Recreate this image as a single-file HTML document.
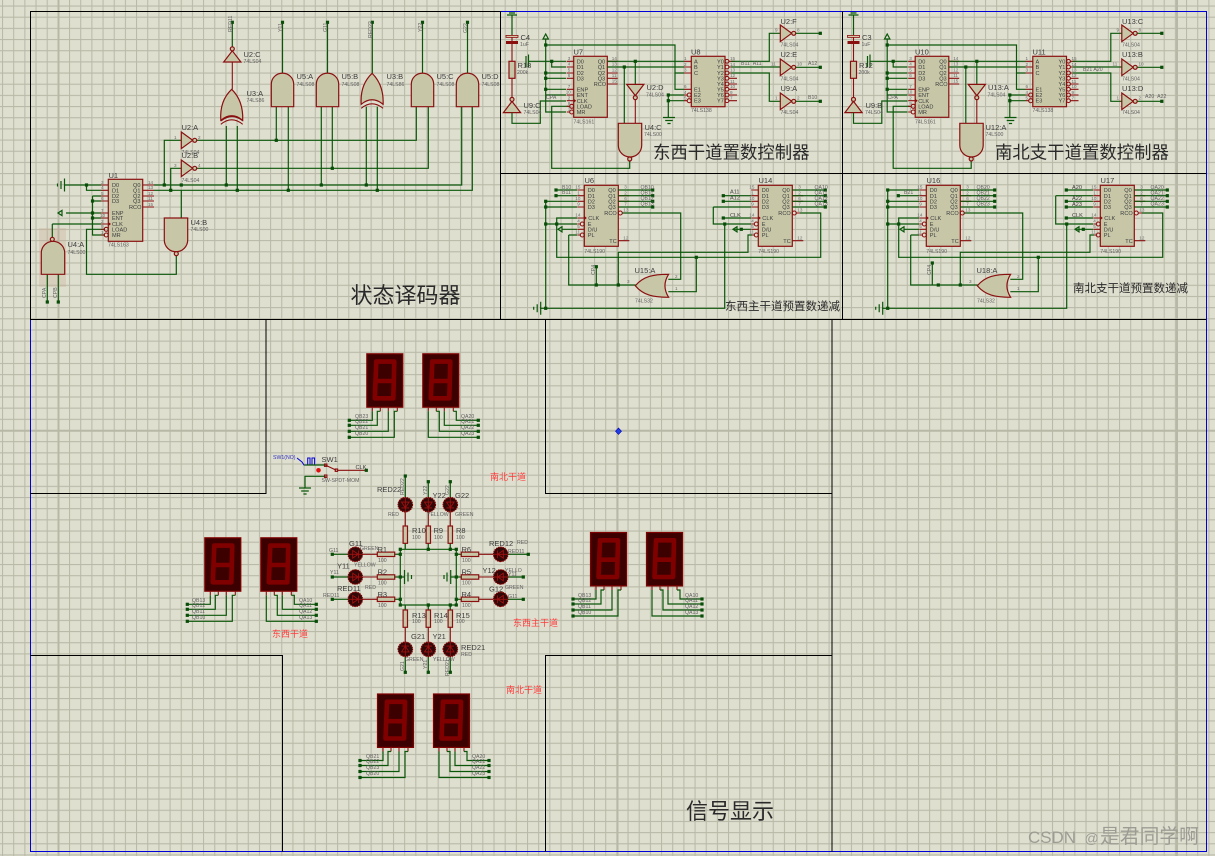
<!DOCTYPE html>
<html><head><meta charset="utf-8"><style>
html,body{margin:0;padding:0;background:#dfdfd0;width:1215px;height:856px;overflow:hidden}
svg{display:block;font-family:"Liberation Sans","Noto Sans CJK SC",sans-serif}
.w{stroke:#0a570a;fill:none;stroke-width:1.2}
.m{stroke:#8a1010;fill:none;stroke-width:1.1}
.b{stroke:#8a1010;fill:#c7c7a8;stroke-width:1.2}
.k{stroke:#000;fill:none;stroke-width:1}
.bl{stroke:#0000d8;fill:none;stroke-width:1}
.t{font-size:7.5px;fill:#3c3c3c}
.s{font-size:5.2px;fill:#606060}
.p{font-size:5.6px;fill:#3c3c3c}
.n{font-size:4.6px;fill:#6a6a6a}
.z{font-size:22px;fill:#2a2a2a}
.y{font-size:17.4px;fill:#2a2a2a}
.x{font-size:11.5px;fill:#2a2a2a}
.r{font-size:9px;fill:#ff3c3c}
</style></head><body>
<svg width="1215" height="856" viewBox="0 0 1215 856" xmlns="http://www.w3.org/2000/svg">
<defs>
<pattern id="gr" x="2" y="5.5" width="11.17" height="11.17" patternUnits="userSpaceOnUse"><path d="M.5,0V11.17M0,.5H11.17" stroke="#b9b9a8" stroke-width="1.1" fill="none"/></pattern>
<rect id="j" x="-1.6" y="-1.6" width="3.2" height="3.2" fill="#084d08"/>
<path id="and" class="b" d="M0,33.4V11A11.2,11.2 0 0 1 22.4,11V33.4Z"/>
<g id="xor"><path class="b" d="M.5,31C-.5,16 5,6 11.4,0C17.5,6 23,16 22.4,31Q11.4,22 .5,31Z"/><path class="m" d="M.5,35Q11.4,26 22.4,35"/></g>
<path id="nand" class="b" d="M0,0H23.4V22A11.7,11.7 0 0 1 0,22Z"/>
<g id="inv"><path class="b" d="M0,-8.3L11.4,0L0,8.3Z"/><circle class="b" cx="13.4" cy="0" r="2"/></g>
<g id="invU"><path class="b" d="M-8.6,5.6L0,-5.6L8.6,5.6Z"/><circle class="b" cx="0" cy="-7.6" r="2"/></g>
<g id="invD"><path class="b" d="M-8.6,-5.6L0,5.6L8.6,-5.6Z"/><circle class="b" cx="0" cy="7.6" r="2"/></g>
<path id="orL" class="b" d="M0,11.5C8,2 18,0 33.3,0Q26,11.5 33.3,23C18,23 8,21 0,11.5Z"/>
<path id="termL" class="w" d="M0,0L4,-2.6V2.6ZM4,-3V3"/>
<g id="gndR"><path class="w" d="M0,-6.5V6.5M-3.5,-4V4M-7,-1.5V1.5"/></g>
<g id="gndD"><path class="w" d="M-6,0H6M-3.8,3H3.8M-1.6,6H1.6"/></g>

<g id="c190">
<rect class="b" x="0" y="0" width="34" height="61"/>
<path class="m" d="M-7,4.7H0M-7,10.4H0M-7,16H0M-7,21.7H0M-7,32.7H0M-7,38.7H-4M-7,44H0M-7,49.7H-4M34,4.7H45M34,10.4H45M34,16H45M34,21.7H45M38,27.7H45M34,55.4H45"/>
<circle class="m" cx="-2" cy="38.7" r="2"/><circle class="m" cx="-2" cy="49.7" r="2"/><circle class="m" cx="36" cy="27.7" r="2"/>
<path d="M0,30.7L2.5,32.7L0,34.7Z" fill="#8a1010"/>
<text class="p" x="3.5" y="6.8">D0</text><text class="p" x="3.5" y="12.5">D1</text><text class="p" x="3.5" y="18.1">D2</text><text class="p" x="3.5" y="23.8">D3</text><text class="p" x="4" y="34.8">CLK</text><text class="p" x="3.5" y="40.8">E</text><text class="p" x="3.5" y="46.1">D/U</text><text class="p" x="3.5" y="51.8">PL</text>
<text class="p" x="24" y="6.8">Q0</text><text class="p" x="24" y="12.5">Q1</text><text class="p" x="24" y="18.1">Q2</text><text class="p" x="24" y="23.8">Q3</text><text class="p" x="20" y="29.8">RCO</text><text class="p" x="25" y="57.5">TC</text>
<text class="n" x="-9" y="3.4">15</text><text class="n" x="-7" y="9">1</text><text class="n" x="-9" y="14.8">10</text><text class="n" x="-7" y="20.4">9</text><text class="n" x="-9" y="31.4">14</text><text class="n" x="-7" y="37.4">4</text><text class="n" x="-7" y="42.8">5</text><text class="n" x="-9" y="48.4">11</text>
<text class="n" x="40" y="3.4">3</text><text class="n" x="40" y="9">2</text><text class="n" x="40" y="14.8">6</text><text class="n" x="40" y="20.4">7</text><text class="n" x="39" y="26.4">13</text><text class="n" x="39" y="54">12</text>
<text class="s" x="0" y="67.5">74LS190</text>
</g>

<g id="c161">
<rect class="b" x="0" y="0" width="33.6" height="61"/>
<path class="m" d="M-7,5H0M-7,10.7H0M-7,16.7H0M-7,22H0M-7,33H0M-7,38.7H0M-7,44.4H0M-7,50H-4M-7,55.7H-4M33.6,5H44M33.6,10.7H44M33.6,16.7H44M33.6,22H44M33.6,27.7H44"/>
<circle class="m" cx="-2" cy="50" r="2"/><circle class="m" cx="-2" cy="55.7" r="2"/>
<path d="M0,42.4L2.5,44.4L0,46.4Z" fill="#8a1010"/>
<text class="p" x="3" y="7">D0</text><text class="p" x="3" y="12.8">D1</text><text class="p" x="3" y="18.8">D2</text><text class="p" x="3" y="24">D3</text><text class="p" x="3" y="35">ENP</text><text class="p" x="3" y="40.8">ENT</text><text class="p" x="3" y="46.5">CLK</text><text class="p" x="3" y="52">LOAD</text><text class="p" x="3" y="57.8">MR</text>
<text class="p" x="24" y="7">Q0</text><text class="p" x="24" y="12.8">Q1</text><text class="p" x="24" y="18.8">Q2</text><text class="p" x="24" y="24">Q3</text><text class="p" x="20" y="29.8">RCO</text>
<text class="n" x="-6" y="3.7">3</text><text class="n" x="-6" y="9.4">4</text><text class="n" x="-6" y="15.4">5</text><text class="n" x="-6" y="20.7">6</text><text class="n" x="-6" y="31.7">7</text><text class="n" x="-8" y="37.4">10</text><text class="n" x="-6" y="43">2</text><text class="n" x="-6" y="48.7">9</text><text class="n" x="-6" y="54.4">1</text>
<text class="n" x="38" y="3.7">14</text><text class="n" x="38" y="9.4">13</text><text class="n" x="38" y="15.4">12</text><text class="n" x="38" y="20.7">11</text><text class="n" x="38" y="26.4">15</text>
</g>

<g id="disp">
<rect x=".5" y=".5" width="36" height="53.4" fill="#3c0000" stroke="#800000" stroke-width="1.2"/>
<path d="M10,8.3H28L27,45H8.5ZM9.2,27.7H27.5" fill="none" stroke="#800000" stroke-width="4.6" stroke-linejoin="round"/>
<path class="m" d="M6,53.7V58M14,53.7V58M22,53.7V58M31,53.7V58" stroke-width="1.2"/>
</g>
<g id="pair">
<use href="#disp"/><use href="#disp" x="56"/>
<path class="w" d="M-17,67H6V58M-17,72H11V58H14M-17,78H22V58M-17,84H28V58H31"/>
<path class="w" d="M62,58V84H112M70,58H73V78H112M78,58V72H112M87,58H90V67H112"/>
<use href="#j" x="-17" y="67"/><use href="#j" x="-17" y="72"/><use href="#j" x="-17" y="78"/><use href="#j" x="-17" y="84"/>
<use href="#j" x="112" y="67"/><use href="#j" x="112" y="72"/><use href="#j" x="112" y="78"/><use href="#j" x="112" y="84"/>
</g>

<g id="led"><circle cx="0" cy="0" r="7.2" fill="#300808" stroke="#800000" stroke-width="1.2" stroke-dasharray="1.5 .7"/><path d="M-3.8,-2.6H3.8L0,3ZM-3.8,3.2H3.8M0,-7V7" stroke="#a01010" stroke-width=".9" fill="none"/></g>
<rect id="rv" class="b" x="-2.2" y="0" width="4.4" height="17.3"/>
<rect id="rh" class="b" x="0" y="-2.2" width="17.4" height="4.4"/>

<g id="s2">
<path class="w" d="M507,15H517M509,13H515M512,15V35"/>
<path class="m" d="M512,37V41M512,44V61.3M512,78.3V97"/>
<rect x="506" y="35.4" width="12" height="2" fill="#d8c8a8" stroke="#8a1010" stroke-width=".8"/><rect x="506" y="41" width="12" height="3" fill="#8a1010"/>
<rect class="b" x="509" y="61.3" width="6" height="17"/>
<use href="#invU" x="512" y="107"/>
<path class="w" d="M512,112.7V123.3H540.3V101H566"/>
<path class="w" d="M543,39L545.7,34L548.4,39ZM545.7,39V112H566M545.7,45H675V89.3H684M675,73H684M545.7,73H566M545.7,78.3H566M545.7,89.3H566M545.7,95H566"/>
<path class="w" d="M526,56V67M528.5,54.5V67M528.5,61.3H566M551.7,61.3V67H566M569,106.3H551.7V168.3H629.7V161"/>
<use href="#j" x="551.7" y="61.3"/><use href="#j" x="545.7" y="45"/><use href="#j" x="545.7" y="73"/><use href="#j" x="545.7" y="78.3"/><use href="#j" x="545.7" y="89.3"/>
<use href="#c161" x="573.7" y="56.3"/>
<path class="w" d="M607.3,61.3H684M607.3,67H684M624.3,67V123M635.3,61.3V84"/>
<use href="#j" x="624.3" y="67"/><use href="#j" x="635.3" y="61.3"/>
<use href="#invD" x="635.3" y="90"/>
<path class="m" d="M635.3,100V123.3"/>
<use href="#nand" x="618.3" y="123.3"/><circle class="b" cx="629.7" cy="159" r="2"/>
<rect class="b" x="691.3" y="56.3" width="33.7" height="50.4"/>
<path class="m" d="M684,61.3H691.3M684,67H691.3M684,73H691.3M684,89.3H691.3M684,95H687M684,100.7H687"/>
<circle class="m" cx="689.2" cy="95" r="2"/><circle class="m" cx="689.2" cy="100.7" r="2"/>
<path class="m" d="M729,61.3H735M729,67H735M729,73H735M729,78.3H737M729,84H737M729,89.3H737M729,95H737M729,100.7H737"/>
<circle class="m" cx="727" cy="61.3" r="1.9"/><circle class="m" cx="727" cy="67" r="1.9"/><circle class="m" cx="727" cy="73" r="1.9"/><circle class="m" cx="727" cy="78.3" r="1.9"/><circle class="m" cx="727" cy="84" r="1.9"/><circle class="m" cx="727" cy="89.3" r="1.9"/><circle class="m" cx="727" cy="95" r="1.9"/><circle class="m" cx="727" cy="100.7" r="1.9"/>
<text class="p" x="694" y="63.3">A</text><text class="p" x="694" y="69">B</text><text class="p" x="694" y="75">C</text><text class="p" x="694" y="91.3">E1</text><text class="p" x="694" y="97">E2</text><text class="p" x="694" y="102.7">E3</text>
<text class="p" x="717" y="63.3">Y0</text><text class="p" x="717" y="69">Y1</text><text class="p" x="717" y="75">Y2</text><text class="p" x="717" y="80.3">Y3</text><text class="p" x="717" y="86">Y4</text><text class="p" x="717" y="91.3">Y5</text><text class="p" x="717" y="97">Y6</text><text class="p" x="717" y="102.7">Y7</text>
<text class="n" x="684" y="60">1</text><text class="n" x="684" y="65.8">2</text><text class="n" x="684" y="71.6">3</text><text class="n" x="684" y="88">6</text><text class="n" x="684" y="93.8">4</text><text class="n" x="684" y="99.5">5</text>
<text class="n" x="730" y="60">15</text><text class="n" x="730" y="65.8">14</text><text class="n" x="730" y="71.6">13</text><text class="n" x="730" y="77">12</text><text class="n" x="730" y="82.8">11</text><text class="n" x="730" y="88">10</text><text class="n" x="730" y="93.8">9</text><text class="n" x="730" y="99.5">7</text>
<path class="w" d="M668.3,95H684M668.3,100.7H684M668.3,95V117.3"/>
<use href="#j" x="668.3" y="95"/><use href="#j" x="668.3" y="100.7"/><use href="#gndD" x="669" y="117.5"/>
<path class="w" d="M731,61.3H769.3V33.3H780M731,67H780M731,73H769.3V101.3H780"/>
<use href="#inv" x="780.3" y="33.3"/><use href="#inv" x="780.3" y="67.3"/><use href="#inv" x="780.3" y="101.3"/>
<path class="w" d="M796,33.3H820.3M796,67.3H820.3M796,101.3H820.3"/>
<use href="#j" x="820.3" y="33.3"/><use href="#j" x="820.3" y="67.3"/><use href="#j" x="820.3" y="101.3"/>
<text class="n" x="775" y="31.5">9</text><text class="n" x="797" y="31.5">8</text><text class="n" x="771" y="65.5">11</text><text class="n" x="797" y="65.5">10</text><text class="n" x="775" y="99.5">1</text><text class="n" x="797" y="99.5">2</text>
<text class="s" x="780.5" y="46.5">74LS04</text><text class="s" x="780.5" y="80.5">74LS04</text><text class="s" x="780.5" y="114">74LS04</text>
<text class="s" x="520" y="46">1uF</text><text class="s" x="517" y="74">200k</text><text class="s" x="523.5" y="114">74LS04</text><text class="s" x="573.5" y="123.3">74LS161</text><text class="s" x="691" y="112">74LS138</text><text class="s" x="646" y="96.5">74LS04</text><text class="s" x="644" y="136">74LS00</text>
<text class="s" x="546" y="99">CPA</text>
</g>

<g id="s2b">
<use href="#c190" x="584.3" y="185.3"/><use href="#c190" x="758.3" y="185.3"/>
<path class="w" d="M545.7,201.3V308.3H724.7V224M545.7,201.3H577M545.7,207H577M545.7,224H577M540,308.3H546"/>
<use href="#gndR" x="540.7" y="308.3"/>
<use href="#j" x="545.7" y="201.3"/><use href="#j" x="545.7" y="207"/><use href="#j" x="545.7" y="224"/><use href="#j" x="545.7" y="308.3"/>
<path class="w" d="M724.7,224H751M733,229.3H751"/>
<use href="#j" x="724.7" y="224"/><use href="#j" x="741.3" y="229.3"/>
<use href="#termL" x="733" y="229.3"/>
<use href="#termL" x="558" y="229.3"/>
<path class="w" d="M562,229.3H577M577,218H556.7V257.3H820.7V213H800"/>
<use href="#j" x="556.7" y="224"/>
<use href="#j" x="696.3" y="257.3"/>
<path class="w" d="M696.3,257.3V291.7H668.3M668.3,279.3H680.7V213H622.7M568.7,235H577M568.7,235V285H635.7M618.3,285V252.3H748V235H752"/>
<use href="#j" x="596.3" y="285"/><use href="#j" x="618.3" y="285"/>
<use href="#orL" x="635.3" y="274.3"/>
<path class="w" d="M618.3,190H653M618.3,195.7H653M618.3,201.3H653M618.3,207H653M792.3,190H825.3M792.3,195.7H825.3M792.3,201.3H825.3M792.3,207H825.3"/>
<use href="#j" x="652.7" y="190"/><use href="#j" x="652.7" y="195.7"/><use href="#j" x="652.7" y="201.3"/><use href="#j" x="652.7" y="207"/>
<use href="#j" x="825.3" y="190"/><use href="#j" x="825.3" y="195.7"/><use href="#j" x="825.3" y="201.3"/><use href="#j" x="825.3" y="207"/>
<text class="n" x="627" y="283">3</text><text class="n" x="675" y="278">2</text><text class="n" x="675" y="290">1</text>
<text class="s" x="635" y="302.3">74LS32</text>
</g>
</defs>

<rect width="1215" height="856" fill="#dfdfd0"/>
<rect width="1215" height="856" fill="url(#gr)"/>
<path d="M58.5,0V856M617.5,0V856M1177,0V856M0,430.7H1215" stroke="#b8b8a6" stroke-width="2" fill="none"/>

<!-- frames -->
<path class="bl" d="M30.5,320V851.5H1206.5V11.5H500"/>
<path class="k" d="M500,11.5H30.5V319.5H1206M500.5,11V319M842.5,11V319M500,173.5H1206"/>
<path class="k" d="M266,320V493.5H30.5M545.5,320V493.5H832M832,320V852M30.5,655.5H282.5V852M545.5,852V655.5H832"/>
<path d="M618.5,428L621.5,431.2L618.5,434.4L615.5,431.2Z" fill="#2040e0" stroke="#0000c0" stroke-width=".6"/>

<!-- state decoder -->
<rect x="39" y="228" width="27" height="59" fill="#c8a890" opacity=".3"/>
<use href="#gndR" x="64.5" y="185"/>
<path class="w" d="M65,185H101M86.5,185V190.3H101M92.5,196H101M92.5,201H101M92.5,196V235H105M66,213H101M92.5,218H101M52.3,224H101M105,229.3H86.5V274.3H176.3V256"/>
<use href="#termL" x="58" y="213"/>
<use href="#j" x="86.5" y="185"/><use href="#j" x="92.5" y="201"/><use href="#j" x="92.5" y="213"/><use href="#j" x="92.5" y="218"/>
<rect class="b" x="108.3" y="179.3" width="34.4" height="62"/>
<path class="m" d="M101,185H108.3M101,190.3H108.3M101,196H108.3M101,201H108.3M101,213H108.3M101,218H108.3M101,224H108.3M101,229.3H104M101,235H104M142.7,185H154M142.7,190.3H154M142.7,196H154M142.7,201H154M142.7,207H154"/>
<circle class="m" cx="106.2" cy="229.3" r="2"/><circle class="m" cx="106.2" cy="235" r="2"/>
<path d="M108.3,222L111,224L108.3,226Z" fill="#8a1010"/>
<text class="p" x="112" y="187">D0</text><text class="p" x="112" y="192.3">D1</text><text class="p" x="112" y="198">D2</text><text class="p" x="112" y="203">D3</text><text class="p" x="112" y="215">ENP</text><text class="p" x="112" y="220">ENT</text><text class="p" x="112" y="226">CLK</text><text class="p" x="112" y="231.3">LOAD</text><text class="p" x="112" y="237">MR</text>
<text class="p" x="133" y="187">Q0</text><text class="p" x="133" y="192.3">Q1</text><text class="p" x="133" y="198">Q2</text><text class="p" x="133" y="203">Q3</text><text class="p" x="129" y="209">RCO</text>
<text class="n" x="101" y="184">3</text><text class="n" x="101" y="189">4</text><text class="n" x="101" y="195">5</text><text class="n" x="101" y="200">6</text><text class="n" x="101" y="212">7</text><text class="n" x="100" y="217">10</text><text class="n" x="101" y="223">2</text><text class="n" x="101" y="228">9</text><text class="n" x="101" y="234">1</text>
<text class="n" x="148" y="184">14</text><text class="n" x="148" y="189">13</text><text class="n" x="148" y="195">12</text><text class="n" x="148" y="200">11</text><text class="n" x="148" y="206">15</text>
<text class="t" x="108.5" y="178">U1</text><text class="s" x="108" y="246.5">74LS163</text>
<path class="w" d="M154,185H461.7V106.7M154,190.3H472.3V106.7M164.3,185V140.3H181M170.7,190.3V168.3H181M181.3,190.3V218M52.3,224V238"/>
<path class="w" d="M197,140.3H416.3V106.7M197,168.3H428.3V106.7M226.3,185V126M237.3,190.3V126M276.3,106.7V140.3M288.3,106.7V190.3M321.3,106.7V185M332.3,106.7V168.3M366.3,106.7V185M377.3,106.7V190.3"/>
<path class="w" d="M282.5,73V22.3M327.5,73V22.3M372.3,73V22.3M422.5,73V22.3M467.5,73V22.3M232.3,47V22.3M47.3,274V302M58.3,274V302"/>
<path class="m" d="M232.3,61.7V89.3"/>
<use href="#inv" x="181.3" y="140.3"/><use href="#inv" x="181.3" y="168.3"/>
<use href="#invU" x="232.3" y="56.4"/>
<use href="#xor" x="220.3" y="89.3"/><path class="m" d="M221,121Q232,112 243,121"/>
<use href="#and" x="271.3" y="73.3"/><use href="#and" x="316.3" y="73.3"/><use href="#xor" x="360.7" y="73.3"/><use href="#and" x="411.3" y="73.3"/><use href="#and" x="456.3" y="73.3"/>
<use href="#nand" x="164.3" y="218"/><circle class="b" cx="176.3" cy="253.7" r="2"/>
<path class="b" d="M41.3,274.3V253A11.7,11.7 0 0 1 64.7,253V274.3Z"/><circle class="b" cx="52.3" cy="239.3" r="2"/>
<use href="#j" x="164.3" y="185"/><use href="#j" x="170.7" y="190.3"/><use href="#j" x="181.3" y="185"/><use href="#j" x="226.3" y="185"/><use href="#j" x="237.3" y="190.3"/><use href="#j" x="276.3" y="140.3"/><use href="#j" x="288.3" y="190.3"/><use href="#j" x="321.3" y="185"/><use href="#j" x="332.3" y="168.3"/><use href="#j" x="366.3" y="185"/><use href="#j" x="377.3" y="190.3"/>
<use href="#j" x="232.3" y="22.3"/><use href="#j" x="282.5" y="22.3"/><use href="#j" x="327.5" y="22.3"/><use href="#j" x="372.3" y="22.3"/><use href="#j" x="422.5" y="22.3"/><use href="#j" x="467.5" y="22.3"/><use href="#j" x="47.3" y="302"/><use href="#j" x="58.3" y="302"/>
<text class="t" x="181.5" y="130">U2:A</text><text class="s" x="181.5" y="154">74LS04</text><text class="t" x="181.5" y="158">U2:B</text><text class="s" x="181.5" y="182">74LS04</text>
<text class="n" x="174" y="139">1</text><text class="n" x="198" y="139">2</text><text class="n" x="174" y="167">3</text><text class="n" x="198" y="167">4</text>
<text class="t" x="243.5" y="57">U2:C</text><text class="s" x="243.5" y="63">74LS04</text>
<text class="t" x="246.5" y="96">U3:A</text><text class="s" x="246.5" y="102">74LS86</text>
<text class="t" x="296.5" y="79">U5:A</text><text class="s" x="296.5" y="86">74LS08</text>
<text class="t" x="341.5" y="79">U5:B</text><text class="s" x="341.5" y="86">74LS08</text>
<text class="t" x="386.5" y="79">U3:B</text><text class="s" x="386.5" y="86">74LS86</text>
<text class="t" x="436.5" y="79">U5:C</text><text class="s" x="436.5" y="86">74LS08</text>
<text class="t" x="481.5" y="79">U5:D</text><text class="s" x="481.5" y="86">74LS08</text>
<text class="t" x="190.5" y="225">U4:B</text><text class="s" x="190.5" y="231">74LS00</text>
<text class="t" x="67.5" y="247">U4:A</text><text class="s" x="67.5" y="254">74LS00</text>
<g class="s"><text transform="translate(232,32) rotate(-90)">RED11</text><text transform="translate(282,32) rotate(-90)">Y11</text><text transform="translate(327,32) rotate(-90)">G11</text><text transform="translate(372,38) rotate(-90)">RED22</text><text transform="translate(422,32) rotate(-90)">Y22</text><text transform="translate(467,33) rotate(-90)">G22</text><text transform="translate(46,298) rotate(-90)">CPA</text><text transform="translate(57,298) rotate(-90)">CPB</text></g>
<text class="z" x="350.5" y="303">状态译码器</text>

<!-- EW preset controller -->
<use href="#s2"/>
<text class="t" x="520.5" y="40">C4</text><text class="t" x="517.5" y="68">R18</text><text class="t" x="523.5" y="108">U9:C</text><text class="t" x="573.5" y="54.5">U7</text><text class="t" x="691" y="54.5">U8</text>
<text class="t" x="646.5" y="90">U2:D</text><text class="t" x="644.5" y="130">U4:C</text><text class="t" x="780.5" y="24">U2:F</text><text class="t" x="780.5" y="57">U2:E</text><text class="t" x="780.5" y="91">U9:A</text>
<text class="s" x="741" y="65">B11 &#160;A11</text><text class="s" x="808" y="65">A12</text><text class="s" x="808" y="99">B10</text>
<text class="y" x="653" y="158.5">东西干道置数控制器</text>

<!-- NS preset controller -->
<use href="#s2" x="341.5"/>
<text class="t" x="862" y="40">C3</text><text class="t" x="859" y="68">R12</text><text class="t" x="865.5" y="108">U9:B</text><text class="t" x="915" y="54.5">U10</text><text class="t" x="1032.5" y="54.5">U11</text>
<text class="t" x="988" y="90">U13:A</text><text class="t" x="985.5" y="130">U12:A</text><text class="t" x="1122" y="24">U13:C</text><text class="t" x="1122" y="57">U13:B</text><text class="t" x="1122" y="91">U13:D</text>
<text class="s" x="1083" y="71">B21 A20</text><text class="s" x="1145" y="98">A20 &#160;A22</text>
<text class="y" x="995" y="158.5">南北支干道置数控制器</text>

<!-- EW down counters -->
<use href="#s2b"/>
<path class="w" d="M556,190H577M556,195.7H577M723.3,195.7H751M723.3,201.3H751M713.3,207H751M713.3,207V224H724M723.3,218H751"/>
<use href="#j" x="556" y="190"/><use href="#j" x="556" y="195.7"/><use href="#j" x="723.3" y="195.7"/><use href="#j" x="723.3" y="201.3"/><use href="#j" x="723.3" y="218"/>
<path class="w" d="M596.3,285V266.7"/><text class="s" transform="translate(595,275) rotate(-90)">CP4</text><use href="#j" x="596.3" y="266.7"/>
<text class="t" x="584.5" y="183">U6</text><text class="t" x="758.5" y="183">U14</text><text class="t" x="634.5" y="273">U15:A</text>
<text class="s" x="562" y="189">B10</text><text class="s" x="562" y="194">B11</text><text class="p" x="730" y="193.5">A11</text><text class="p" x="730" y="199.5">A12</text><text class="p" x="730" y="217">CLK</text>
<text class="s" x="640.5" y="189">QB10</text><text class="s" x="640.5" y="194.5">QB11</text><text class="s" x="640.5" y="200">QB12</text><text class="s" x="640.5" y="205.5">QB13</text>
<text class="s" x="814.5" y="189">QA10</text><text class="s" x="814.5" y="194.5">QA11</text><text class="s" x="814.5" y="200">QA12</text><text class="s" x="814.5" y="205.5">QA13</text>
<text class="x" x="725" y="310">东西主干道预置数递减</text>

<!-- NS down counters -->
<use href="#s2b" x="342"/>
<path class="w" d="M887.7,190V201.3M887.7,190H919M898.3,195.7H919M1066.3,190H1093M1055.7,195.7H1093M1055.7,195.7V224H1066.7M1066.3,201.3H1093M1066.3,207H1093M1066.3,218H1093"/>
<use href="#j" x="887.7" y="190"/><use href="#j" x="898.3" y="195.7"/><use href="#j" x="1066.3" y="190"/><use href="#j" x="1066.3" y="201.3"/><use href="#j" x="1066.3" y="207"/><use href="#j" x="1066.3" y="218"/>
<path class="w" d="M932.3,285V263"/><text class="s" transform="translate(931,275) rotate(-90)">CP4</text><use href="#j" x="932.3" y="263"/>
<text class="t" x="926.5" y="183">U16</text><text class="t" x="1100.5" y="183">U17</text><text class="t" x="976.5" y="273">U18:A</text>
<text class="s" x="904" y="194">B21</text><text class="p" x="1072" y="189">A20</text><text class="p" x="1072" y="200">A22</text><text class="p" x="1072" y="206">A23</text><text class="p" x="1072" y="217">CLK</text>
<text class="s" x="976.5" y="189">QB20</text><text class="s" x="976.5" y="194.5">QB21</text><text class="s" x="976.5" y="200">QB22</text><text class="s" x="976.5" y="205.5">QB23</text>
<text class="s" x="1150.5" y="189">QA20</text><text class="s" x="1150.5" y="194.5">QA21</text><text class="s" x="1150.5" y="200">QA22</text><text class="s" x="1150.5" y="205.5">QA23</text>
<text class="x" x="1073" y="292">南北支干道预置数递减</text>

<!-- displays -->
<use href="#pair" x="366.3" y="353.3"/>
<use href="#pair" x="204.3" y="537.3"/>
<use href="#pair" x="590" y="532"/>
<use href="#pair" x="377" y="693.5"/>
<g class="s">
<text x="355" y="418">QB23</text><text x="355" y="423">QB22</text><text x="355" y="429">QB21</text><text x="355" y="435">QB20</text>
<text x="461" y="418">QA20</text><text x="461" y="423">QA21</text><text x="461" y="429">QA22</text><text x="461" y="435">QA23</text>
<text x="192" y="602">QB13</text><text x="192" y="607">QB12</text><text x="192" y="613">QB11</text><text x="192" y="619">QB10</text>
<text x="299" y="602">QA10</text><text x="299" y="607">QA11</text><text x="299" y="613">QA12</text><text x="299" y="619">QA13</text>
<text x="578" y="597">QB13</text><text x="578" y="602">QB12</text><text x="578" y="608">QB11</text><text x="578" y="614">QB10</text>
<text x="685" y="597">QA10</text><text x="685" y="602">QA11</text><text x="685" y="608">QA12</text><text x="685" y="614">QA13</text>
<text x="366" y="758">QB21</text><text x="366" y="763">QB22</text><text x="366" y="769">QB23</text><text x="366" y="775">QB20</text>
<text x="472" y="758">QA20</text><text x="472" y="763">QA21</text><text x="472" y="769">QA22</text><text x="472" y="775">QA23</text>
</g>

<!-- switch -->
<text x="273" y="459" font-size="5.2" fill="#3030c0">SW1(NO)</text>
<path class="bl" d="M297,458L302,462L304,465H307.7V458H310V465H312V458H314.6V465" stroke-width="1.1"/>
<path class="w" d="M304.5,465H325.7M325.7,476.3H305V487.7"/>
<use href="#gndD" x="305" y="488"/>
<circle cx="318.5" cy="470.3" r="2.3" fill="#e01010"/>
<path class="m" d="M325.7,465.3L336.3,470.3M338,470.3H366.3"/>
<use href="#j" x="366.3" y="470.3"/>
<rect class="m" x="324.5" y="464" width="2.4" height="2.4"/><rect class="m" x="335.2" y="469" width="2.4" height="2.4"/><rect class="m" x="324.5" y="475" width="2.4" height="2.4"/>
<text class="t" x="321.5" y="462">SW1</text><text class="p" x="355.5" y="469">CLK</text><text class="s" x="321.5" y="482">SW-SPDT-MOM</text>

<!-- traffic light network -->
<path class="w" d="M400.3,549.3H456.3V605H400.3ZM405.3,549.3V543M428.3,549.3V543M450.3,549.3V543M405.3,605V610M428.3,605V610M450.3,605V610M400.3,554.3H395M400.3,577H395M400.3,599.3H395M456.3,554.3H461M456.3,577H461M456.3,599.3H461M400.3,577H404M456.3,577H451"/>
<path class="w" d="M404.5,570V584M408,572.5V581.5M411.5,575V579M450.7,570V584M447,572.5V581.5M444,575V579"/>
<use href="#j" x="400.3" y="549.3"/><use href="#j" x="428.3" y="549.3"/><use href="#j" x="450.3" y="549.3"/><use href="#j" x="456.3" y="549.3"/><use href="#j" x="400.3" y="605"/><use href="#j" x="428.3" y="605"/><use href="#j" x="450.3" y="605"/><use href="#j" x="456.3" y="605"/><use href="#j" x="400.3" y="554.3"/><use href="#j" x="400.3" y="577"/><use href="#j" x="400.3" y="599.3"/><use href="#j" x="456.3" y="554.3"/><use href="#j" x="456.3" y="577"/><use href="#j" x="456.3" y="599.3"/>

<path class="m" d="M405.3,512V526M428.3,512V526M450.3,512V526M405.3,627V642M428.3,627V642M450.3,627V642M363,554.3H377.3M363,577H377.3M363,599.3H377.3M478.7,554.3H493M478.7,577H493M478.7,599.3H493"/>
<path class="w" d="M405.3,497V476M428.3,497V481.7M450.3,497V481.7M405.3,657V672.3M428.3,657V672.3M450.3,657V672.3M348,554.3H332.3M348,577H332.3M348,599.3H332.3M508,554.3H528.3M508,577H523.3M508,599.3H523.3"/>
<use href="#j" x="405.3" y="476"/><use href="#j" x="428.3" y="481.7"/><use href="#j" x="450.3" y="481.7"/><use href="#j" x="405.3" y="672.3"/><use href="#j" x="428.3" y="672.3"/><use href="#j" x="450.3" y="672.3"/><use href="#j" x="332.3" y="554.3"/><use href="#j" x="332.3" y="577"/><use href="#j" x="332.3" y="599.3"/><use href="#j" x="528.3" y="554.3"/><use href="#j" x="523.3" y="577"/><use href="#j" x="523.3" y="599.3"/>

<use href="#rv" x="405.3" y="526"/><use href="#rv" x="428.3" y="526"/><use href="#rv" x="450.3" y="526"/><use href="#rv" x="405.3" y="610"/><use href="#rv" x="428.3" y="610"/><use href="#rv" x="450.3" y="610"/>
<use href="#rh" x="377.3" y="554.3"/><use href="#rh" x="377.3" y="577"/><use href="#rh" x="377.3" y="599.3"/><use href="#rh" x="461.3" y="554.3"/><use href="#rh" x="461.3" y="577"/><use href="#rh" x="461.3" y="599.3"/>

<g transform="translate(405.3,504.7)"><use href="#led"/></g><g transform="translate(428.3,504.7)"><use href="#led"/></g><g transform="translate(450.3,504.7)"><use href="#led"/></g>
<g transform="translate(405.3,649.3) rotate(180)"><use href="#led"/></g><g transform="translate(428.3,649.3) rotate(180)"><use href="#led"/></g><g transform="translate(450.3,649.3) rotate(180)"><use href="#led"/></g>
<g transform="translate(355.3,554.3) rotate(-90)"><use href="#led"/></g><g transform="translate(355.3,577) rotate(-90)"><use href="#led"/></g><g transform="translate(355.3,599.3) rotate(-90)"><use href="#led"/></g>
<g transform="translate(500.7,554.3) rotate(90)"><use href="#led"/></g><g transform="translate(500.7,577) rotate(90)"><use href="#led"/></g><g transform="translate(500.7,599.3) rotate(90)"><use href="#led"/></g>

<g class="t">
<text x="377" y="492">RED22</text><text x="432.5" y="498">Y22</text><text x="455" y="498">G22</text>
<text x="412" y="533">R10</text><text x="433.5" y="533">R9</text><text x="456" y="533">R8</text>
<text x="412" y="618">R13</text><text x="434" y="618">R14</text><text x="456" y="618">R15</text>
<text x="377.5" y="552">R1</text><text x="377.5" y="574.5">R2</text><text x="377.5" y="597">R3</text>
<text x="461.5" y="552">R6</text><text x="461.5" y="574.5">R5</text><text x="461.5" y="597">R4</text>
<text x="349" y="546">G11</text><text x="337" y="568.5">Y11</text><text x="337" y="591">RED11</text>
<text x="489" y="546">RED12</text><text x="482.5" y="573">Y12</text><text x="489" y="591.5">G12</text>
<text x="411" y="639">G21</text><text x="432.5" y="639">Y21</text><text x="461" y="650">RED21</text>
</g>
<g class="s">
<text x="388" y="516">RED</text><text x="427" y="516">YELLOW</text><text x="455" y="516">GREEN</text>
<text x="360" y="550">GREEN</text><text x="354" y="566.5">YELLOW</text><text x="365" y="589">RED</text>
<text x="517" y="544">RED</text><text x="508" y="553">RED11</text><text x="505" y="572">YELLO</text><text x="505" y="589">GREEN</text>
<text x="405" y="661">GREEN</text><text x="433" y="661">YELLOW</text><text x="461" y="656">RED</text>
<text x="329" y="552">G11</text><text x="330" y="574">Y11</text><text x="323" y="597">RED11</text>
<text x="508" y="576">Y11</text><text x="508" y="598">G11</text>
<text x="412" y="539">100</text><text x="434" y="539">100</text><text x="456" y="539">100</text>
<text x="412" y="623">100</text><text x="434" y="623">100</text><text x="456" y="623">100</text>
<text x="378" y="562">100</text><text x="378" y="584.5">100</text><text x="378" y="607">100</text>
<text x="462" y="562">100</text><text x="462" y="584.5">100</text><text x="462" y="607">100</text>
<text transform="translate(404,495) rotate(-90)">RED22</text><text transform="translate(427,495) rotate(-90)">Y22</text><text transform="translate(449,495) rotate(-90)">G22</text>
<text transform="translate(404,671) rotate(-90)">G21</text><text transform="translate(427,669) rotate(-90)">Y21</text><text transform="translate(449,676) rotate(-90)">RED21</text>
</g>
<text class="r" x="490" y="480">南北干道</text>
<text class="r" x="272" y="637">东西干道</text>
<text class="r" x="513" y="626">东西主干道</text>
<text class="r" x="506" y="693">南北干道</text>
<text class="z" x="686" y="819">信号显示</text>
<text y="843" fill="#9c9c94"><tspan x="1028" font-size="17" textLength="48" lengthAdjust="spacingAndGlyphs">CSDN</tspan><tspan x="1084.5" font-size="14">@</tspan><tspan x="1100" font-size="19.8">是君同学啊</tspan></text>
</svg>
</body></html>
